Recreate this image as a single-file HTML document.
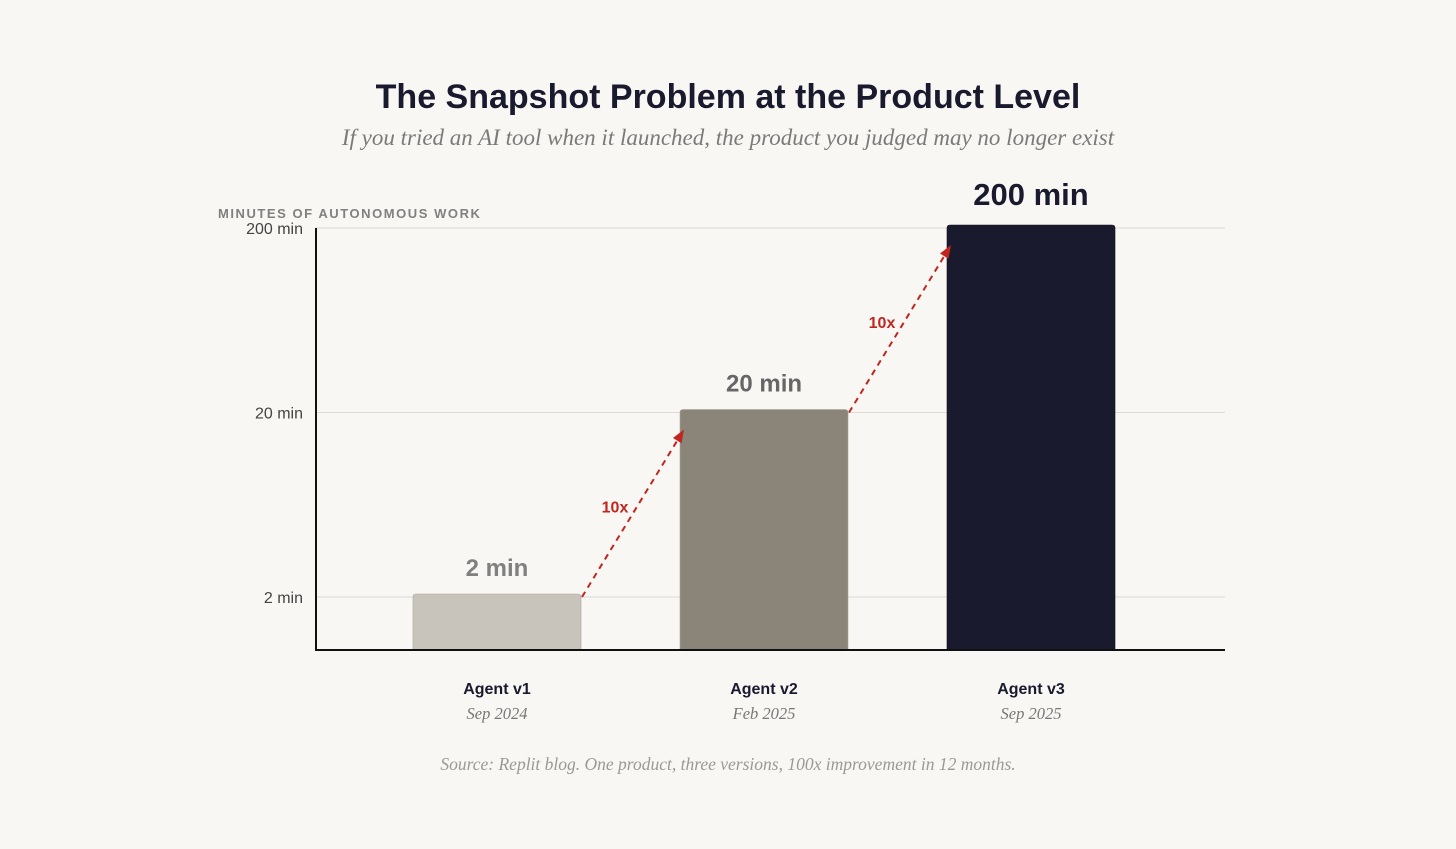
<!DOCTYPE html>
<html><head><meta charset="utf-8"><style>
body{margin:0;background:#f8f7f4;width:1456px;height:849px;overflow:hidden}
svg{display:block}
</style></head><body>
<svg id="c" width="1456" height="849">
<text x="728" y="108" text-anchor="middle" font-family="Liberation Sans, sans-serif" font-weight="bold" font-size="34" fill="#1a1a2e">The Snapshot Problem at the Product Level</text>
<text x="728" y="145" text-anchor="middle" font-family="Liberation Serif, serif" font-style="italic" font-size="23" fill="#7a7a7a">If you tried an AI tool when it launched, the product you judged may no longer exist</text>
<text x="218" y="218" font-family="Liberation Sans, sans-serif" font-weight="bold" font-size="13" letter-spacing="1.55" fill="#808080">MINUTES OF AUTONOMOUS WORK</text>
<g id="grid"></g><g id="bars"></g><g id="arrows"></g>
<line x1="316" y1="228" x2="316" y2="650" stroke="#111" stroke-width="2"/>
<line x1="315" y1="650" x2="1225" y2="650" stroke="#111" stroke-width="2"/>
<text x="728" y="770" text-anchor="middle" font-family="Liberation Serif, serif" font-style="italic" font-size="17.5" fill="#999">Source: Replit blog. One product, three versions, 100x improvement in 12 months.</text>
</svg>
<script>
const categories=["Agent v1","Agent v2","Agent v3"];
const dates=["Sep 2024","Feb 2025","Sep 2025"];
const values=[2,20,200];
const valueLabels=["2 min","20 min","200 min"];
const ticks=[2,20,200];
const tickLabels=["2 min","20 min","200 min"];
const colors=["#c8c4bc","#8b8478","#1a1a2e"];
const labelColors=["#808080","#666666","#1a1a2e"];
const NS="http://www.w3.org/2000/svg";
const y=v=>597-(Math.log10(v)-Math.log10(2))*184.5;
const x=i=>497+i*267;
function mk(t,a,p){const e=document.createElementNS(NS,t);for(const k in a)e.setAttribute(k,a[k]);p.appendChild(e);return e;}
const g=document.getElementById('grid'),b=document.getElementById('bars'),ar=document.getElementById('arrows');
ticks.forEach((t,i)=>{
 const l=mk('line',{x1:316,x2:1225,y1:y(t),y2:y(t),stroke:'#dcdad4','stroke-width':1},g);
 
 
 const tx=mk('text',{x:303,y:y(t)+6,'text-anchor':'end','font-family':'Liberation Sans, sans-serif','font-size':16,fill:'#444'},g);
 tx.textContent=tickLabels[i];
 
 
});
const fs=[24,24,31];
values.forEach((v,i)=>{
 const top=y(v)-3;
 const r=mk('path',{d:`M${x(i)-84},650V${top+3}q0,-3 3,-3H${x(i)+81}q3,0 3,3V650Z`,fill:colors[i],stroke:i==2?'#111':'#aaa49a','stroke-width':0.6},b);
 
 
 const vl=mk('text',{x:x(i),y:top-18+(i==2?-2:0),'text-anchor':'middle','font-family':'Liberation Sans, sans-serif','font-weight':'bold','font-size':fs[i],fill:labelColors[i]},b);
 vl.textContent=valueLabels[i];
 
 
 const cl=mk('text',{x:x(i),y:694,'text-anchor':'middle','font-family':'Liberation Sans, sans-serif','font-weight':'bold','font-size':16,fill:'#1a1a2e'},b);
 cl.textContent=categories[i];
 
 
 const dl=mk('text',{x:x(i),y:719,'text-anchor':'middle','font-family':'Liberation Serif, serif','font-style':'italic','font-size':16.5,fill:'#777'},b);
 dl.textContent=dates[i];
 
 
}
);
for(let i=0;i<values.length-1;i++){
 const x1=x(i)+85,y1=y(values[i]),x2=x(i+1)-80,y2=y(values[i+1])+17;
 const l=mk('line',{x1,y1,x2,y2,stroke:'#c0261f','stroke-width':2,'stroke-dasharray':'6,5'},ar);
 
 
 const ang=Math.atan2(y2-y1,x2-x1),L=13,W=5;
 const bx=x2-L*Math.cos(ang),by=y2-L*Math.sin(ang);
 const h=mk('polygon',{points:`${x2},${y2} ${bx+W*Math.sin(ang)},${by-W*Math.cos(ang)} ${bx-W*Math.sin(ang)},${by+W*Math.cos(ang)}`,fill:'#c0261f'},ar);
 
 
 const t=mk('text',{x:(x1+x2)/2-18,y:(y1+y2)/2-1,'text-anchor':'middle','font-family':'Liberation Sans, sans-serif','font-weight':'bold','font-size':16,fill:'#c0261f'},ar);
 t.textContent='10x';
 
 
}
</script>
</body></html>
